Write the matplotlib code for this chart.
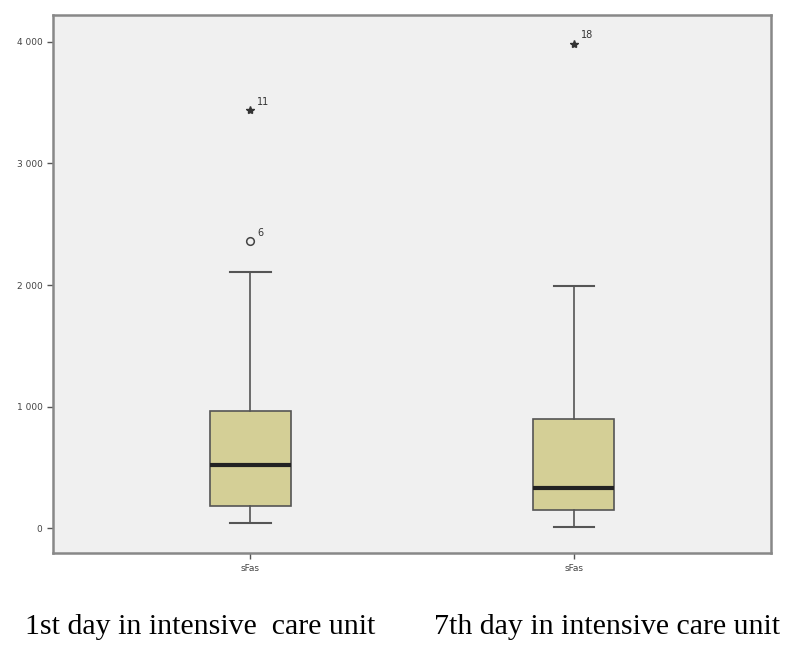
import matplotlib.pyplot as plt

# values
groups = ['sFas', 'sFas']
whisker_low = [41, 8]
q1 = [181, 148]
medians = [520, 330]
q3 = [965, 899]
whisker_high = [2103, 1988]

# outliers: circle = mild, star = extreme
mild_pos = [1]
mild_val = [2359]
mild_lbl = ['6']
extreme_pos = [1, 2]
extreme_val = [3439, 3983]
extreme_lbl = ['11', '18']

yticks = [0, 1000, 2000, 3000, 4000]
ytick_labels = ['0', '1 000', '2 000', '3 000', '4 000']
captions = ['1st day in intensive  care unit', '7th day in intensive care unit']

fig = plt.figure(figsize=(7.91, 6.47), dpi=100)
fig.patch.set_facecolor('white')
ax = fig.add_axes([0.067, 0.145, 0.908, 0.832])
ax.set_facecolor('#f0f0f0')

stats = []
for i in range(len(groups)):
    stats.append({'whislo': whisker_low[i], 'q1': q1[i], 'med': medians[i],
                  'q3': q3[i], 'whishi': whisker_high[i], 'fliers': []})

ax.bxp(stats, positions=[1, 2], widths=0.25, patch_artist=True,
       showfliers=False,
       boxprops=dict(facecolor='#d4cf96', edgecolor='#555555', linewidth=1.2),
       medianprops=dict(color='#222222', linewidth=3),
       whiskerprops=dict(color='#555555', linewidth=1.2),
       capprops=dict(color='#555555', linewidth=1.5),
       capwidths=0.125)

ax.plot(mild_pos, mild_val, 'o', mfc='none', mec='#444444', ms=5.5, mew=1.1)
ax.plot(extreme_pos, extreme_val, '*', color='#333333', ms=6)
for x, y, t in zip(mild_pos, mild_val, mild_lbl):
    ax.annotate(t, (x, y), xytext=(5, 4), textcoords='offset points',
                fontsize=7, color='#333333')
for x, y, t in zip(extreme_pos, extreme_val, extreme_lbl):
    ax.annotate(t, (x, y), xytext=(5, 4), textcoords='offset points',
                fontsize=7, color='#333333')

ax.set_xlim(0.389, 2.611)
ax.set_ylim(-206, 4222)
ax.set_yticks(yticks)
ax.set_yticklabels(ytick_labels)
ax.set_xticks([1, 2])
ax.set_xticklabels(groups)
ax.tick_params(labelsize=6.5, colors='#555555', length=4, width=1, labelcolor='#444444')

for s in ax.spines.values():
    s.set_color('#888888')
    s.set_linewidth(1.8)

fig.text(0.253, 0.031, captions[0], ha='center', va='center',
         family='Liberation Serif', fontsize=21.5)
fig.text(0.768, 0.031, captions[1], ha='center', va='center',
         family='Liberation Serif', fontsize=21.5)

fig.savefig('out.png', dpi=100)
